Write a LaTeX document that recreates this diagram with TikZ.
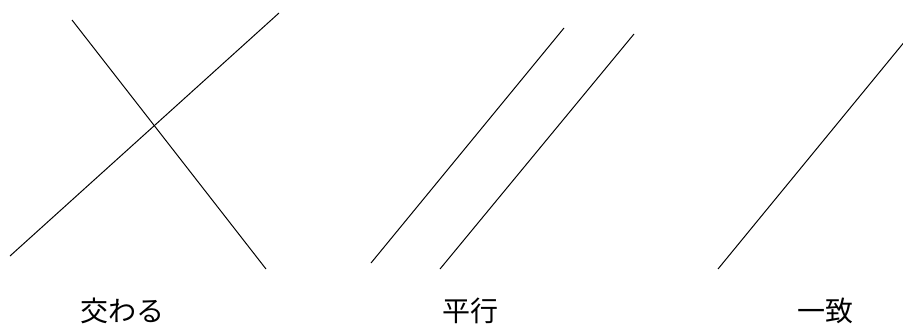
\documentclass[tikz,border=0pt]{standalone}
\usepackage{fontspec}
\newfontfamily\cjk{Noto Sans CJK JP}
\begin{document}
\begin{tikzpicture}[x=1pt,y=-1pt,
  ln/.style={line width=1pt, black},
  lbl/.style={font=\cjk\fontsize{28}{28}\selectfont, inner sep=0pt, anchor=center}]
\useasboundingbox (0,0) rectangle (903,327);
\clip (0,0) rectangle (903,327);
% intersecting
\coordinate (a1) at (10,256);
\coordinate (a2) at (279,13);
\coordinate (b1) at (72,20);
\coordinate (b2) at (266,269);
\draw[ln] (a1) -- (a2);
\draw[ln] (b1) -- (b2);
% parallel
\coordinate (c1) at (371,263);
\coordinate (c2) at (564,28);
\coordinate (d1) at (440,269);
\coordinate (d2) at (634,34);
\draw[ln] (c1) -- (c2);
\draw[ln] (d1) -- (d2);
% coincide
\coordinate (e1) at (718,269);
\coordinate (e2) at (910,35);
\draw[ln] (e1) -- (e2);
% labels
\node[lbl] (t1) at (122,311) {交わる};
\node[lbl] (t2) at (470,311) {平行};
\node[lbl] (t3) at (825,311) {一致};
\end{tikzpicture}
\end{document}
